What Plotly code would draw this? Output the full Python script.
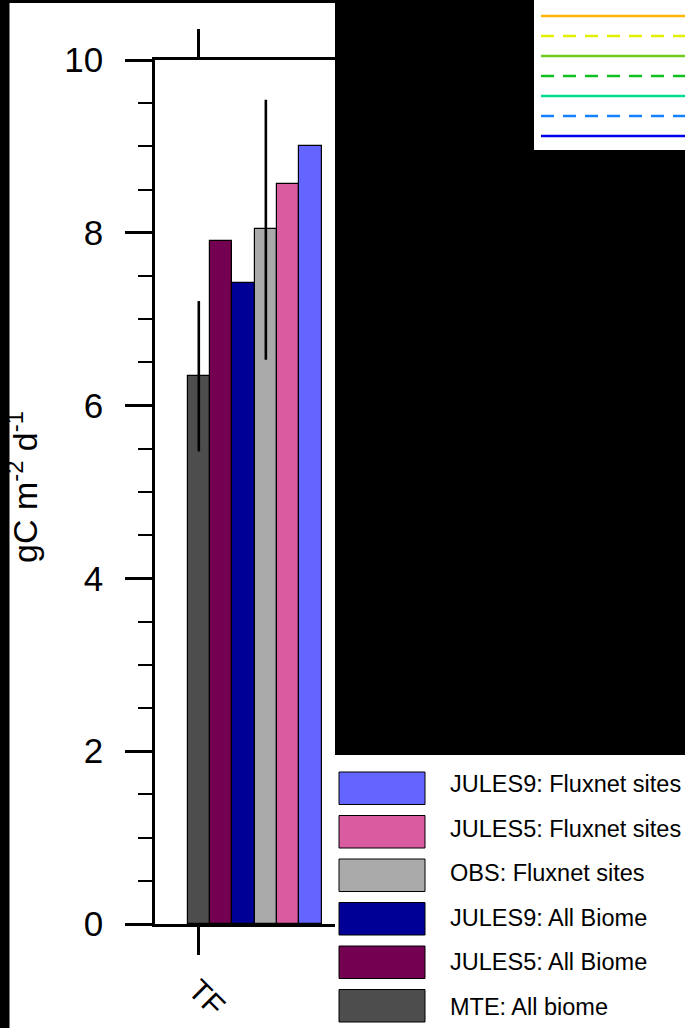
import plotly.graph_objects as go

# ---------------- data ----------------
categories = ["TF"]
series = ["MTE: All biome", "JULES5: All Biome", "JULES9: All Biome",
          "OBS: Fluxnet sites", "JULES5: Fluxnet sites", "JULES9: Fluxnet sites"]
values = [6.34, 7.90, 7.42, 8.04, 8.57, 9.00]
err_plus = [0.87, None, None, 1.50, None, None]
err_minus = [0.87, None, None, 1.51, None, None]
bar_colors = ["#4d4d4d", "#730050", "#000096", "#aaaaaa", "#d95ba0", "#6464ff"]
y_ticks = [0, 2, 4, 6, 8, 10]
y_title = "gC m<sup>-2</sup> d<sup>-1</sup>"

line_colors = ["#ffb400", "#e0f000", "#70cc20", "#10c020", "#00dd8c", "#1482ff", "#0000f0"]
line_dashes = ["solid", "13px,9px", "solid", "13px,9px", "solid", "13px,9px", "solid"]

# ---------------- layout helpers ----------------
W, H = 685, 1028


def px(x):
    return x / W


def py(y):
    return 1 - y / H


FONT = "Liberation Sans, Arial, sans-serif"
x0_pix, x_scale = 198.8, 22.35   # pixel of category tick, pixels per bar slot
dom_l, dom_r = 155, 335

fig = go.Figure()
fig.add_trace(go.Bar(
    x=list(range(len(series))), y=values, width=1,
    marker=dict(color=bar_colors, line=dict(color="black", width=1.2)),
    error_y=dict(type="data", array=err_plus, arrayminus=err_minus, symmetric=False,
                 color="black", thickness=2.6, width=0),
    showlegend=False, hoverinfo="skip",
))

shapes = []
# white panels on black page
for (a, b, c, d) in [(9.5, 3, 335, 1028), (335, 755, 685, 1028), (534, 0, 685, 150)]:
    shapes.append(dict(type="rect", xref="paper", yref="paper", layer="below",
                       x0=px(a), x1=px(c), y0=py(d), y1=py(b),
                       fillcolor="white", line=dict(width=0)))

# line legend (top-right, labels cut off)
for i, (c, dsh) in enumerate(zip(line_colors, line_dashes)):
    yy = 16 + 20 * i
    shapes.append(dict(type="line", xref="paper", yref="paper",
                       x0=px(541), x1=px(690), y0=py(yy), y1=py(yy),
                       line=dict(color=c, width=2.6, dash=dsh)))

annotations = []
# bar legend (bottom-right), reversed order
for k, idx in enumerate(reversed(range(len(series)))):
    top = 772 + 43.5 * k
    shapes.append(dict(type="rect", xref="paper", yref="paper", layer="above",
                       x0=px(339), x1=px(425), y0=py(top + 32.5), y1=py(top),
                       fillcolor=bar_colors[idx], line=dict(color="black", width=1)))
    annotations.append(dict(xref="paper", yref="paper", x=px(448), y=py(784 + 44.6 * k),
                            xanchor="left", yanchor="middle", showarrow=False,
                            text=series[idx], font=dict(family=FONT, size=23.5, color="black")))

# category label
annotations.append(dict(xref="paper", yref="paper", x=px(207), y=py(997),
                        xanchor="center", yanchor="middle", showarrow=False, textangle=45,
                        text=categories[0], font=dict(family=FONT, size=30, color="black")))
# y title
annotations.append(dict(xref="paper", yref="paper", x=px(22), y=py(487),
                        xanchor="center", yanchor="middle", showarrow=False, textangle=-90,
                        text=y_title, font=dict(family=FONT, size=34, color="black")))

fig.update_layout(
    width=W, height=H, margin=dict(l=0, r=0, t=0, b=0, autoexpand=False),
    paper_bgcolor="black", plot_bgcolor="rgba(0,0,0,0)",
    showlegend=False, bargap=0,
    shapes=shapes, annotations=annotations,
    xaxis=dict(domain=[px(dom_l), px(dom_r)], automargin=False,
               range=[(dom_l - x0_pix) / x_scale, (dom_r - x0_pix) / x_scale],
               tickvals=[0], showticklabels=False,
               ticks="outside", ticklen=28, tickwidth=2.6, tickcolor="black",
               showline=True, linecolor="black", linewidth=2.6, mirror="ticks",
               showgrid=False, zeroline=False, fixedrange=True),
    yaxis=dict(domain=[py(924), py(60)], range=[0, 10], automargin=False,
               tickvals=y_ticks, ticktext=[str(v) for v in y_ticks],
               ticks="outside", ticklen=27, tickwidth=2.6, tickcolor="black",
               ticklabelstandoff=15,
               tickfont=dict(family=FONT, size=35, color="black"),
               minor=dict(ticks="outside", ticklen=14, tickwidth=1.6, tickcolor="black", dtick=0.5),
               showline=True, linecolor="black", linewidth=2.6, mirror=False,
               showgrid=False, zeroline=False, fixedrange=True),
)

fig.write_html("out.html")
